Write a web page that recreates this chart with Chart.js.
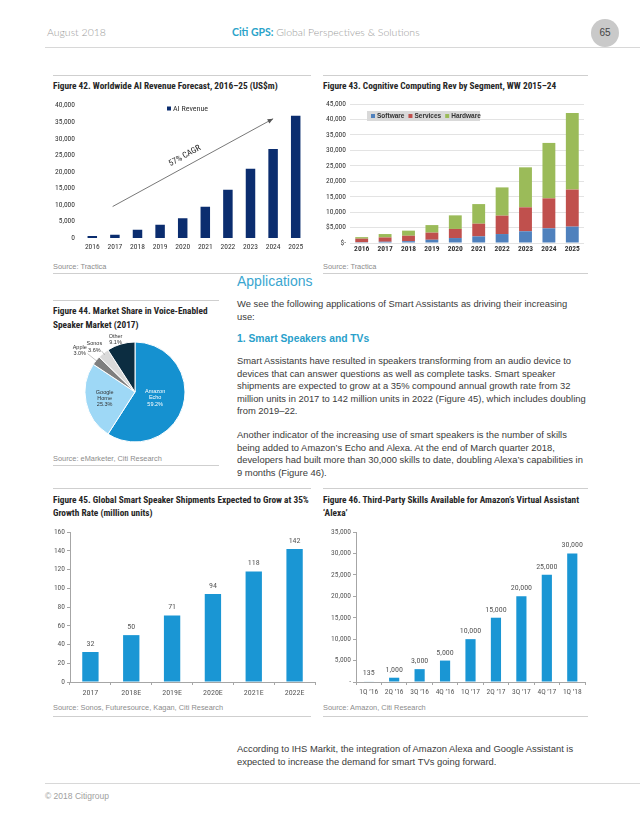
<!DOCTYPE html>
<html>
<head>
<meta charset="utf-8">
<script src="https://cdn.jsdelivr.net/npm/chart.js@4.4.1/dist/chart.umd.min.js"></script>
<style>
body { margin: 0; background: #fff; }
#page { position: relative; width: 640px; height: 828px; overflow: hidden; font-family: "Liberation Sans", Arial, sans-serif; color: #333; }
.abs { position: absolute; white-space: nowrap; }
.rule { position: absolute; height: 1px; background: #cfcfcf; }
.ftitle { position: absolute; white-space: nowrap; font-family: "Roboto Condensed", "Liberation Sans", Arial, sans-serif; font-weight: bold; font-size: 9.3px; line-height: 13px; color: #262626; }
.src { position: absolute; white-space: nowrap; font-family: "Liberation Sans", Arial, sans-serif; font-size: 7.4px; color: #8c8c8c; }
.body { position: absolute; white-space: nowrap; font-size: 9.4px; line-height: 12.5px; color: #3a3a3a; }
canvas { position: absolute; }
</style>
</head>
<body>
<div id="page">
  <!-- header -->
  <div class="abs" style="left:47px;top:26px;font-family:Lato,'Open Sans',sans-serif;font-weight:300;font-size:10.5px;color:#9a9a9a;">August 2018</div>
  <div class="abs" style="left:232px;top:26px;font-family:Lato,'Open Sans',sans-serif;font-size:10.5px;color:#9a9a9a;"><b style="color:#2aa3c9;">Citi GPS:</b> <span style="font-weight:300;">Global Perspectives &amp; Solutions</span></div>
  <div class="abs" style="left:591px;top:19px;width:28px;height:28px;border-radius:50%;background:#c9c9c9;text-align:center;line-height:28px;font-size:10px;color:#444;">65</div>
  <div class="rule" style="left:45px;top:47px;width:595px;background:#d8d8d8;"></div>

  <!-- figure 42 / 43 -->
  <div class="rule" style="left:53px;top:75px;width:258px;"></div>
  <div class="rule" style="left:323px;top:75px;width:265px;"></div>
  <div class="ftitle" style="left:53px;top:79px;">Figure 42. Worldwide AI Revenue Forecast, 2016–25 (US$m)</div>
  <div class="ftitle" style="left:323px;top:79px;">Figure 43. Cognitive Computing Rev by Segment, WW 2015–24</div>
  <canvas id="c42" width="275" height="160" style="left:40px;top:95px;"></canvas>
  <canvas id="c43" width="285" height="160" style="left:305px;top:95px;"></canvas>
  <div class="src" style="left:53px;top:262px;">Source: Tractica</div>
  <div class="src" style="left:323px;top:262px;">Source: Tractica</div>
  <div class="rule" style="left:53px;top:273px;width:258px;"></div>
  <div class="rule" style="left:323px;top:273px;width:265px;"></div>

  <!-- figure 44 -->
  <div class="rule" style="left:53px;top:300px;width:166px;"></div>
  <div class="ftitle" style="left:53px;top:304px;line-height:13.6px;">Figure 44. Market Share in Voice-Enabled<br>Speaker Market (2017)</div>
  <canvas id="c44" width="150" height="124" style="left:60px;top:330px;"></canvas>
  <div class="src" style="left:53px;top:454px;">Source: eMarketer, Citi Research</div>
  <div class="rule" style="left:53px;top:465px;width:166px;"></div>

  <!-- text column -->
  <div class="abs" style="left:237px;top:273px;font-size:14px;color:#3aa6d0;">Applications</div>
  <div class="body" style="left:237px;top:298px;">We see the following applications of Smart Assistants as driving their increasing<br>use:</div>
  <div class="abs" style="left:237px;top:333px;font-size:10.3px;font-weight:bold;color:#2a9fcb;">1. Smart Speakers and TVs</div>
  <div class="body" style="left:237px;top:355px;">Smart Assistants have resulted in speakers transforming from an audio device to<br>devices that can answer questions as well as complete tasks. Smart speaker<br>shipments are expected to grow at a 35% compound annual growth rate from 32<br>million units in 2017 to 142 million units in 2022 (Figure 45), which includes doubling<br>from 2019–22.</div>
  <div class="body" style="left:237px;top:429px;">Another indicator of the increasing use of smart speakers is the number of skills<br>being added to Amazon’s Echo and Alexa. At the end of March quarter 2018,<br>developers had built more than 30,000 skills to date, doubling Alexa’s capabilities in<br>9 months (Figure 46).</div>

  <!-- figure 45 / 46 -->
  <div class="rule" style="left:53px;top:488px;width:258px;"></div>
  <div class="rule" style="left:323px;top:488px;width:265px;"></div>
  <div class="ftitle" style="left:53px;top:493px;">Figure 45. Global Smart Speaker Shipments Expected to Grow at 35%<br>Growth Rate (million units)</div>
  <div class="ftitle" style="left:323px;top:493px;">Figure 46. Third-Party Skills Available for Amazon’s Virtual Assistant<br>‘Alexa’</div>
  <canvas id="c45" width="300" height="180" style="left:20px;top:520px;"></canvas>
  <canvas id="c46" width="280" height="180" style="left:310px;top:520px;"></canvas>
  <div class="src" style="left:53px;top:703px;">Source: Sonos, Futuresource, Kagan, Citi Research</div>
  <div class="src" style="left:323px;top:703px;">Source: Amazon, Citi Research</div>
  <div class="rule" style="left:53px;top:716px;width:258px;"></div>
  <div class="rule" style="left:323px;top:716px;width:265px;"></div>

  <div class="body" style="left:237px;top:743px;">According to IHS Markit, the integration of Amazon Alexa and Google Assistant is<br>expected to increase the demand for smart TVs going forward.</div>

  <!-- footer -->
  <div class="rule" style="left:45px;top:783px;width:595px;background:#d8d8d8;"></div>
  <div class="abs" style="left:45px;top:791px;font-size:8.5px;color:#a0a0a0;">© 2018 Citigroup</div>
</div>

<script>
// Figure 42
const aiYears = ["2016", "2017", "2018", "2019", "2020", "2021", "2022", "2023", "2024", "2025"];
const aiRevenue = [600, 1000, 2500, 4000, 6000, 9450, 14550, 20900, 26900, 36900];
const aiArrowFrom = [0.9, 9500];
const aiArrowTo = [8.0, 36000];

// Figure 43
const ccYears = ["2016", "2017", "2018", "2019", "2020", "2021", "2022", "2023", "2024", "2025"];
const ccSoftware = [250, 400, 600, 1050, 1600, 2150, 2900, 3800, 4750, 5300];
const ccServices = [1150, 1400, 1750, 2300, 2950, 4100, 5950, 7750, 9700, 12000];
const ccHardware = [500, 1100, 1650, 2450, 4400, 6350, 9150, 12950, 17950, 24800];

// Figure 44
const shareLabels = ["Amazon Echo", "Google Home", "Apple", "Sonos", "Other"];
const shareValues = [59.2, 25.3, 3.0, 3.6, 9.1];

// Figure 45
const speakerYears = ["2017", "2018E", "2019E", "2020E", "2021E", "2022E"];
const speakerUnits = [32, 50, 71, 94, 118, 142];

// Figure 46
const skillQuarters = ["1Q \u201916", "2Q \u201916", "3Q \u201916", "4Q \u201916", "1Q \u201917", "2Q \u201917", "3Q \u201917", "4Q \u201917", "1Q \u201918"];
const skillCounts = [135, 1000, 3000, 5000, 10000, 15000, 20000, 25000, 30000];

const COND = "'Roboto Condensed', 'Liberation Sans', Arial, sans-serif";
const CITI_BLUE = "#1a96d4";
Chart.defaults.font.family = COND;
Chart.defaults.color = "#404040";
Chart.defaults.animation = false;
Chart.defaults.responsive = false;
Chart.defaults.plugins.legend.display = false;
Chart.defaults.plugins.tooltip.enabled = false;

const fmt = (v) => Number(v).toLocaleString("en-US");

// draws a legend row from the chart's own datasets
const rowLegend = {
    id: "rowLegend",
    afterDraw(chart, args, opts) {
        const ctx = chart.ctx;
        const a = chart.chartArea;
        let x = a.left + opts.dx;
        const y = a.top + opts.dy;
        ctx.save();
        ctx.font = opts.font;
        ctx.textBaseline = "middle";
        if (opts.background) {
            ctx.fillStyle = opts.background;
            ctx.fillRect(x - 4, y - 5, opts.boxWidth, 10);
        }
        chart.data.datasets.forEach((ds) => {
            ctx.fillStyle = ds.backgroundColor;
            ctx.fillRect(x, y - 2, 4, 4);
            ctx.fillStyle = opts.color;
            ctx.fillText(ds.label, x + 6, y);
            x += 6 + ctx.measureText(ds.label).width + opts.gap;
        });
        ctx.restore();
    },
};

const cagrArrow = {
    id: "cagrArrow",
    afterDatasetsDraw(chart) {
        const { ctx, scales } = chart;
        const x1 = scales.x.getPixelForValue(aiArrowFrom[0]);
        const y1 = scales.y.getPixelForValue(aiArrowFrom[1]);
        const x2 = scales.x.getPixelForValue(aiArrowTo[0]);
        const y2 = scales.y.getPixelForValue(aiArrowTo[1]);
        const ang = Math.atan2(y2 - y1, x2 - x1);
        ctx.save();
        ctx.strokeStyle = "#555";
        ctx.fillStyle = "#555";
        ctx.lineWidth = 0.8;
        ctx.beginPath();
        ctx.moveTo(x1, y1);
        ctx.lineTo(x2, y2);
        ctx.stroke();
        ctx.beginPath();
        ctx.moveTo(x2, y2);
        ctx.lineTo(x2 - 6 * Math.cos(ang - 0.4), y2 - 6 * Math.sin(ang - 0.4));
        ctx.lineTo(x2 - 6 * Math.cos(ang + 0.4), y2 - 6 * Math.sin(ang + 0.4));
        ctx.closePath();
        ctx.fill();
        ctx.translate((x1 + x2) / 2 - 6, (y1 + y2) / 2 - 3);
        ctx.rotate(ang);
        ctx.font = "8.5px " + COND;
        ctx.fillStyle = "#222";
        ctx.textAlign = "center";
        ctx.textBaseline = "bottom";
        ctx.fillText("57% CAGR", 0, 0);
        ctx.restore();
    },
};

const valueLabels = {
    id: "valueLabels",
    afterDatasetsDraw(chart, args, opts) {
        const ctx = chart.ctx;
        const ds = chart.data.datasets[0];
        ctx.save();
        ctx.font = opts.font;
        ctx.fillStyle = opts.color;
        ctx.textAlign = "center";
        ctx.textBaseline = "bottom";
        chart.getDatasetMeta(0).data.forEach((bar, i) => {
            ctx.fillText(fmt(ds.data[i]), bar.x, bar.y - 4);
        });
        ctx.restore();
    },
};

// pie label placement: inside fraction of radius, or pixels outside the edge
const PIE_PLACE = [
    { inside: 0.42, color: "#fff" },
    { inside: 0.62, color: "#333" },
    { outside: 16, color: "#333", leader: true },
    { outside: 8, color: "#333", leader: true },
    { outside: 5, color: "#333" },
];

const pieLabels = {
    id: "pieLabels",
    afterDatasetsDraw(chart) {
        const ctx = chart.ctx;
        ctx.save();
        ctx.font = "5.5px 'Liberation Sans', Arial, sans-serif";
        ctx.textAlign = "center";
        ctx.textBaseline = "middle";
        chart.getDatasetMeta(0).data.forEach((arc, i) => {
            const p = arc.getProps(["x", "y", "startAngle", "endAngle", "outerRadius"], true);
            const mid = (p.startAngle + p.endAngle) / 2;
            const place = PIE_PLACE[i];
            const r = place.inside ? p.outerRadius * place.inside : p.outerRadius + place.outside;
            const cx = p.x + Math.cos(mid) * r;
            const cy = p.y + Math.sin(mid) * r;
            const lines = shareLabels[i].split(" ").concat(shareValues[i].toFixed(1) + "%");
            if (place.leader) {
                ctx.strokeStyle = "#888";
                ctx.lineWidth = 0.5;
                ctx.beginPath();
                ctx.moveTo(p.x + Math.cos(mid) * (p.outerRadius - 2), p.y + Math.sin(mid) * (p.outerRadius - 2));
                ctx.lineTo(p.x + Math.cos(mid) * (r - 5), p.y + Math.sin(mid) * (r - 5));
                ctx.stroke();
            }
            ctx.fillStyle = place.color;
            lines.forEach((t, k) => {
                ctx.fillText(t, cx - (place.outside ? 4 : 0), cy + (k - (lines.length - 1) / 2) * 6.2);
            });
        });
        ctx.restore();
    },
};

// Figure 42
new Chart(document.getElementById("c42"), {
    type: "bar",
    data: {
        labels: aiYears,
        datasets: [{ label: "AI Revenue", data: aiRevenue, backgroundColor: "#0b2d6f", barPercentage: 0.42, categoryPercentage: 1 }],
    },
    options: {
        layout: { padding: { top: 10, right: 8 } },
        plugins: {
            rowLegend: { dx: 86, dy: 3, font: "8px " + COND, color: "#333", gap: 8 },
        },
        scales: {
            x: {
                grid: { display: false, drawTicks: false },
                border: { display: false },
                ticks: { font: { size: 7.5 }, color: "#333", padding: 5, maxRotation: 0 },
                afterFit: (s) => { s.height = 17; },
            },
            y: {
                min: 0,
                max: 40000,
                grid: { display: false, drawTicks: false },
                border: { display: false },
                ticks: { stepSize: 5000, font: { size: 7.5 }, color: "#333", padding: 6, callback: (v) => fmt(v) },
                afterFit: (s) => { s.width = 41; },
            },
        },
    },
    plugins: [cagrArrow, rowLegend],
});

// Figure 43
new Chart(document.getElementById("c43"), {
    type: "bar",
    data: {
        labels: ccYears,
        datasets: [
            { label: "Software", data: ccSoftware, backgroundColor: "#4f81bd" },
            { label: "Services", data: ccServices, backgroundColor: "#c0504d" },
            { label: "Hardware", data: ccHardware, backgroundColor: "#9bbb59" },
        ].map((d) => ({ ...d, barPercentage: 0.55, categoryPercentage: 1 })),
    },
    options: {
        layout: { padding: { top: 9, right: 6 } },
        plugins: {
            rowLegend: { dx: 21, dy: 12, font: "bold 6.5px 'Liberation Sans', Arial, sans-serif", color: "#333", gap: 4, background: "#d9d9d9", boxWidth: 113 },
        },
        scales: {
            x: {
                stacked: true,
                grid: { display: false, drawTicks: false },
                border: { display: false },
                ticks: { font: { size: 7.5, weight: "bold" }, color: "#333", padding: 2, maxRotation: 0 },
                afterFit: (s) => { s.height = 12; },
            },
            y: {
                stacked: true,
                min: 0,
                max: 45000,
                grid: { color: "#e3e3e3", drawTicks: false },
                border: { display: false },
                ticks: {
                    stepSize: 5000,
                    font: { size: 7.5 },
                    color: "#333",
                    padding: 4,
                    callback: (v) => (v === 0 ? "$-" : v === 5000 ? "$5,000" : fmt(v)),
                },
                afterFit: (s) => { s.width = 45; },
            },
        },
    },
    plugins: [rowLegend],
});

// Figure 44
new Chart(document.getElementById("c44"), {
    type: "pie",
    data: {
        labels: shareLabels,
        datasets: [{
            data: shareValues,
            backgroundColor: ["#1591d0", "#9ed8f6", "#7f7f7f", "#dadada", "#0c2d41"],
            borderColor: "#fff",
            borderWidth: 1,
        }],
    },
    options: { radius: 50 },
    plugins: [pieLabels],
});

// shared look of the two blue bar charts
function axisLook(extra) {
    return {
        grid: { drawOnChartArea: false, tickLength: 3, color: "#a6a6a6" },
        border: { display: true, color: "#a6a6a6" },
        ...extra,
    };
}

// Figure 45
new Chart(document.getElementById("c45"), {
    type: "bar",
    data: {
        labels: speakerYears,
        datasets: [{ data: speakerUnits, backgroundColor: CITI_BLUE, barPercentage: 0.4, categoryPercentage: 1 }],
    },
    options: {
        layout: { padding: { top: 12, right: 5 } },
        plugins: { valueLabels: { font: "8px " + COND, color: "#595959" } },
        scales: {
            x: axisLook({
                ticks: { font: { size: 8 }, color: "#595959", padding: 3, maxRotation: 0 },
                afterFit: (s) => { s.height = 18; },
            }),
            y: axisLook({
                min: 0,
                max: 160,
                ticks: { stepSize: 20, font: { size: 7.5 }, color: "#595959", padding: 2 },
                afterFit: (s) => { s.width = 50; },
            }),
        },
    },
    plugins: [valueLabels],
});

// Figure 46
new Chart(document.getElementById("c46"), {
    type: "bar",
    data: {
        labels: skillQuarters,
        datasets: [{ data: skillCounts, backgroundColor: CITI_BLUE, barPercentage: 0.4, categoryPercentage: 1 }],
    },
    options: {
        layout: { padding: { top: 12, right: 5 } },
        plugins: { valueLabels: { font: "8px " + COND, color: "#595959" } },
        scales: {
            x: axisLook({
                ticks: { font: { size: 7.5 }, color: "#595959", padding: 3, maxRotation: 0, autoSkip: false },
                afterFit: (s) => { s.height = 18; },
            }),
            y: axisLook({
                min: 0,
                max: 35000,
                ticks: { stepSize: 5000, font: { size: 7.5 }, color: "#595959", padding: 2, callback: (v) => (v === 0 ? "-" : fmt(v)) },
                afterFit: (s) => { s.width = 46; },
            }),
        },
    },
    plugins: [valueLabels],
});
</script>
</body>
</html>
